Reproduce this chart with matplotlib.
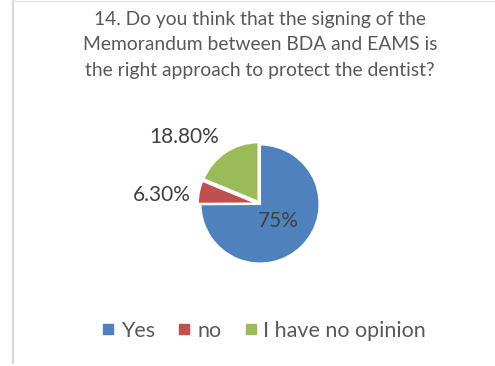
import matplotlib
matplotlib.use("Agg")
import matplotlib.pyplot as plt
from matplotlib.lines import Line2D

plt.rcParams['font.family'] = ['Lato', 'DejaVu Sans']

title = "14. Do you think that the signing of the\nMemorandum between BDA and EAMS is\nthe right approach to protect the dentist?"
categories = ["Yes", "no", "I have no opinion"]
values = [75.0, 6.3, 18.8]
value_labels = ["75%", "6.30%", "18.80%"]
colors = ["#4F81BD", "#C0504D", "#9BBB59"]
text_color = "#595959"

W, H = 495, 366
fig = plt.figure(figsize=(W / 100, H / 100), dpi=100)
fig.patch.set_facecolor("white")

# frame lines (left and top edge of the chart area)
fig.add_artist(Line2D([12.5 / W, 12.5 / W], [1 - 363 / H, 1], color="#D9D9D9", lw=1.6))
fig.add_artist(Line2D([12.5 / W, 1], [1 - 0.5 / H, 1 - 0.5 / H], color="#E6E6E6", lw=1.0))

fig.text(260 / W, 1 - 11 / H, title, ha="center", va="top", fontsize=13.9,
         color=text_color, linespacing=1.6)

# pie axes: centre at (260, 204) px, radius ~59.5 px
cx, cy, R = 260, 204, 59.5
half = 110
ax = fig.add_axes([(cx - half) / W, (H - cy - half) / H, 2 * half / W, 2 * half / H])
lim = half / R
ax.set_aspect("equal")
ax.axis("off")

wedges, _ = ax.pie(values, colors=colors, startangle=90, counterclock=False,
                   explode=[0, 0.045, 0.045], radius=1.0,
                   wedgeprops=dict(edgecolor="white", linewidth=1.5))
ax.set_xlim(-lim, lim)
ax.set_ylim(-lim, lim)

# value labels, offsets in pie-radius units from the centre
label_pos = [(18 / R, -17 / R), (-98 / R, 9 / R), (-76 / R, 67 / R)]
for (x, y), txt in zip(label_pos, value_labels):
    ax.text(x, y, txt, ha="center", va="center", fontsize=15, color="#404040")

handles = [Line2D([], [], marker="s", linestyle="none", markersize=6.5,
                  markerfacecolor=c, markeredgecolor=c) for c in colors]
fig.legend(handles, categories, loc="center", bbox_to_anchor=(264 / W, 1 - 331 / H),
           ncol=3, frameon=False, fontsize=15.5, labelcolor=text_color,
           handlelength=0.6, handletextpad=0.3, columnspacing=1.05)

fig.savefig("out.png", dpi=100, facecolor="white")
